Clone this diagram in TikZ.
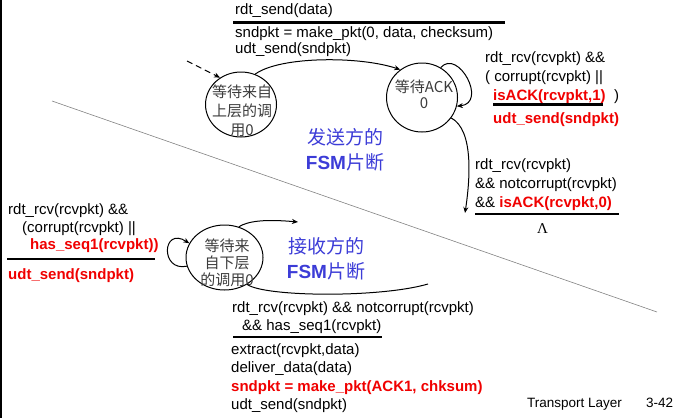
\documentclass[tikz,border=0pt]{standalone}
\usepackage{fontspec}
\setmainfont{Liberation Sans}
\newfontfamily\cjk{Noto Sans CJK SC}
\newfontfamily\lamfont{Liberation Serif}
\usetikzlibrary{arrows.meta,shapes.geometric}
\definecolor{fsmblue}{RGB}{60,60,215}
\definecolor{rred}{RGB}{240,0,0}
\definecolor{stgray}{RGB}{60,60,60}
\definecolor{divgray}{RGB}{130,130,130}
\begin{document}
\begin{tikzpicture}[x=1pt,y=-1pt,
  lbl/.style={font=\fontsize{15}{18}\selectfont, anchor=west, inner sep=0pt, text height=10.9pt, text depth=3.2pt},
  redlbl/.style={lbl, text=rred, font=\fontsize{15}{18}\selectfont\bfseries},
  rule/.style={line width=2.6pt},
  state/.style={draw, line width=1pt, ellipse, inner sep=0pt},
  sttxt/.style={font=\fontsize{15}{19}\cjk, text=stgray, align=center, inner sep=0pt},
  fsm/.style={font=\fontsize{19}{25}\cjk, text=fsmblue, align=center, inner sep=0pt},
  arr/.style={line width=1pt, -{Stealth[length=6pt,width=5pt]}},
  curve/.style={line width=1pt},
]
\useasboundingbox (0,0) rectangle (685,418);
\draw[line width=2pt] (1,0) -- (1,418);
\draw[divgray, line width=0.6pt] (52,101) -- (657,312);

% states
\node[state, minimum width=71pt, minimum height=65pt] (s1) at (241,104.5) {};
\node[sttxt] (s1t) at (242,111) {等待来自\\上层的调\\用0};
\node[state, minimum width=71pt, minimum height=69pt] (s2) at (422,97.5) {};
\node[sttxt, font=\fontsize{15}{16}\cjk] (s2t) at (424,94.5) {等待ACK\\0};
\node[state, minimum width=77pt, minimum height=65pt] (r) at (224.5,257.5) {};
\node[sttxt, font=\fontsize{15}{17}\cjk] (rt) at (227,263) {等待来\\自下层\\的调用0};

% transitions
\coordinate (init) at (187,61);
\draw[arr, dash pattern=on 6pt off 4pt] (init) -- (s1.128);
\draw[arr] (s1.65) .. controls (280,56) and (360,56) .. (s2.128);
\draw[arr] (s2.58) .. controls (458,48) and (488,103) .. (s2.-14);
\coordinate (down) at (465,213);
\draw[arr] (s2.-35) .. controls (474,130) and (470,180) .. (down);
\draw[arr] (r.193) .. controls (160,272) and (162,226) .. (r.158);
\coordinate (rtop) at (298,222);
\draw[arr] (r.65) .. controls (248,221) and (265,219) .. (rtop);
\coordinate (rbot) at (428,284);
\draw[curve] (r.-50) .. controls (265,297) and (380,298) .. (rbot);

% top label
\node[lbl] (t1) at (235,10.5) {rdt\_send(data)};
\draw[rule] (233,22.5) -- (505,22.5);
\node[lbl] (t2) at (235,33.5) {sndpkt = make\_pkt(0, data, checksum)};
\node[lbl] (t3) at (235,49.5) {udt\_send(sndpkt)};

% right label 1
\node[lbl] (a1) at (485,59) {rdt\_rcv(rcvpkt) \&\&};
\node[lbl] (a2) at (485,78) {( corrupt(rcvpkt) ||};
\node[redlbl] (a3) at (493,96.5) {isACK(rcvpkt,1)};
\node[lbl] (a3b) at (614,96.5) {)};
\draw[rule] (493,104.5) -- (603,104.5);
\node[redlbl] (a4) at (493,120) {udt\_send(sndpkt)};

% right label 2
\node[lbl] (b1) at (475,166) {rdt\_rcv(rcvpkt)};
\node[lbl] (b2) at (475,185) {\&\& notcorrupt(rcvpkt)};
\node[lbl] (b3) at (475,204) {\&\& \textcolor{rred}{\bfseries isACK(rcvpkt,0)}};
\draw[rule] (475,214) -- (619,214);
\node[lbl, font=\fontsize{15}{18}\lamfont] (b4) at (537,230) {Λ};

% left label
\node[lbl] (c1) at (8,211) {rdt\_rcv(rcvpkt) \&\&};
\node[lbl] (c2) at (22,229) {(corrupt(rcvpkt) ||};
\node[redlbl] (c3) at (30,246) {has\_seq1(rcvpkt))};
\draw[rule] (7,259) -- (155,259);
\node[redlbl] (c4) at (8,276) {udt\_send(sndpkt)};

% bottom label
\node[lbl] (d1) at (232,308.5) {rdt\_rcv(rcvpkt) \&\& notcorrupt(rcvpkt)};
\node[lbl] (d2) at (242,327) {\&\& has\_seq1(rcvpkt)};
\draw[rule] (233,337) -- (382,337);
\node[lbl] (d3) at (231,351) {extract(rcvpkt,data)};
\node[lbl] (d4) at (231,369) {deliver\_data(data)};
\node[redlbl] (d5) at (231,387.5) {sndpkt = make\_pkt(ACK1, chksum)};
\node[lbl] (d6) at (231,406) {udt\_send(sndpkt)};

% FSM labels
\node[fsm] (f1) at (345,149.5) {发送方的\\{\rmfamily\bfseries FSM}片断};
\node[fsm] (f2) at (326,259) {接收方的\\{\rmfamily\bfseries FSM}片断};

% footer
\node[lbl, font=\fontsize{13.5}{16}\selectfont] (ft1) at (527,404) {Transport Layer};
\node[lbl, font=\fontsize{13.5}{16}\selectfont] (ft2) at (646,404) {3-42};
\end{tikzpicture}
\end{document}
